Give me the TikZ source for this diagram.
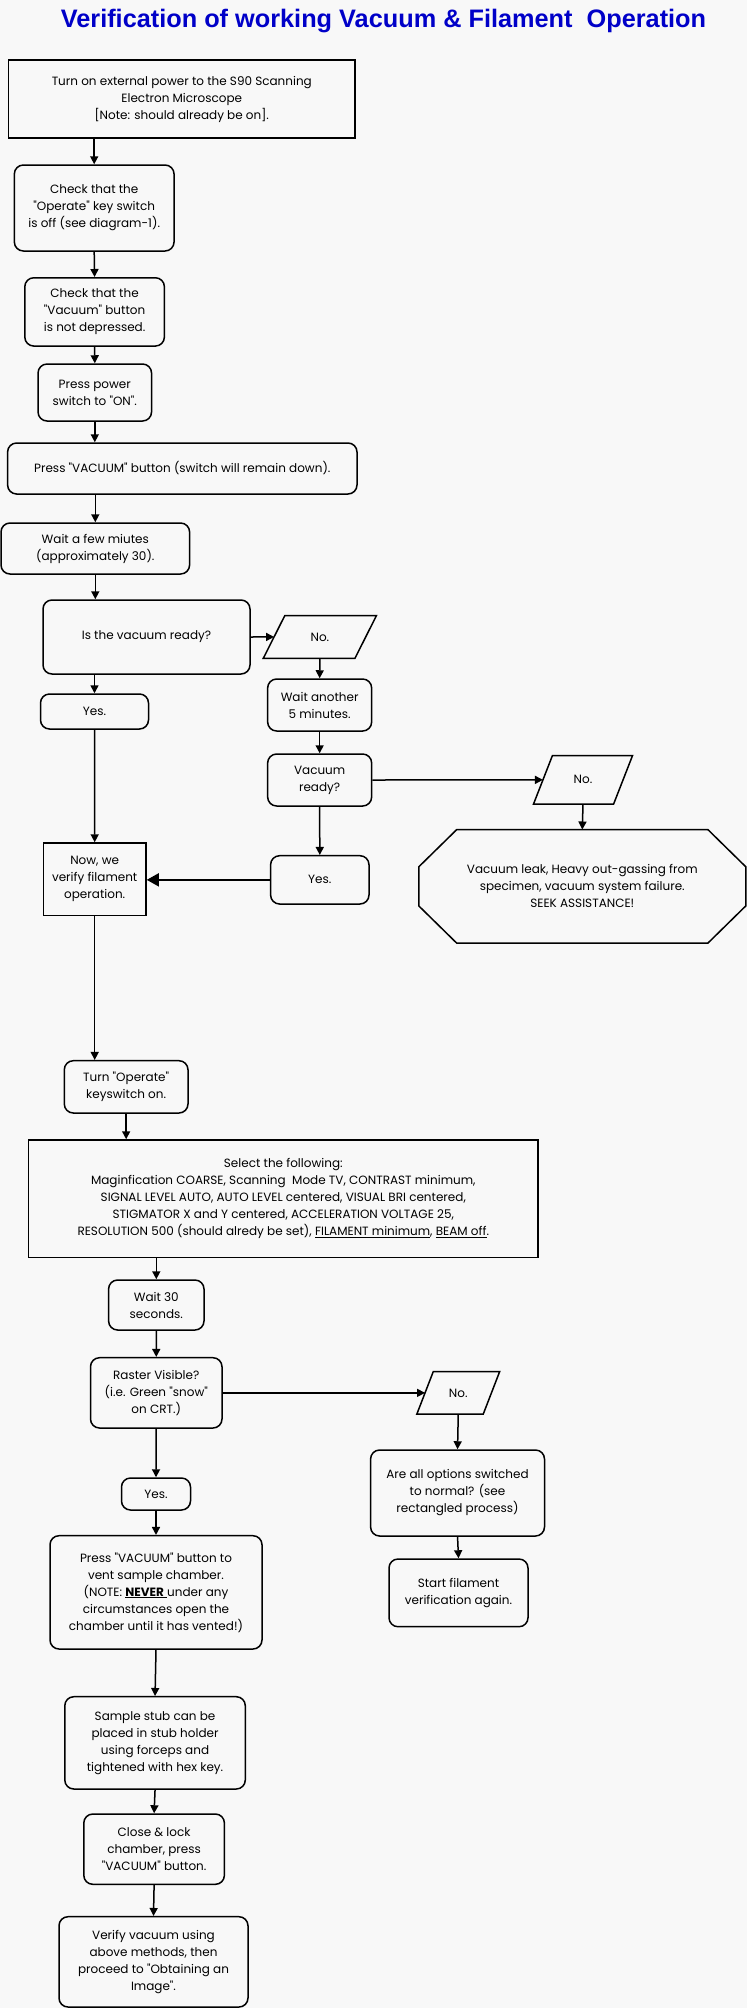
\documentclass[tikz,border=0pt]{standalone}
\usepackage{fontspec}
\usetikzlibrary{arrows.meta}
\newfontfamily\titlefont{Liberation Sans}
\newfontfamily\bodyfont{Poppins}
\definecolor{bgc}{RGB}{248,248,248}
\definecolor{titleblue}{RGB}{0,0,200}
\newcommand\drawpara[2]{\draw[shapeline] ([xshift=-#2pt]#1.south west) -- ([xshift=#2pt]#1.north west) -- ([xshift=#2pt]#1.north east) -- ([xshift=-#2pt]#1.south east) -- cycle;}
\begin{document}
\begin{tikzpicture}[x=1pt,y=-1pt,
  shapeline/.style={line width=1.5pt, line join=miter},
  box/.style={draw, line width=1.5pt, align=center, inner sep=0pt, font={\bodyfont\fontsize{12}{17}\selectfont}},
  rbox/.style={box, rounded corners=9pt},
  ghost/.style={align=center, inner sep=0pt, font={\bodyfont\fontsize{12}{17}\selectfont}},
  arr/.style={line width=1.5pt, -{Triangle[length=8pt,width=8pt]}},
  bigarr/.style={line width=1.5pt, -{Triangle[length=12pt,width=13pt]}},
  plain/.style={line width=1.5pt}
]
\fill[bgc] (0,0) rectangle (747,2008);
\useasboundingbox (0,0) rectangle (747,2008);

\node[anchor=base, font={\titlefont\bfseries\fontsize{25.3}{28}\selectfont}, text=titleblue] (title) at (383.5,27.5) {Verification of working Vacuum \& Filament\ \ Operation};

\node[box, minimum width=346.4pt, minimum height=78pt] (b1) at (181.8,99) {Turn on external power to the S90 Scanning\\Electron Microscope\\{[Note: should already be on].}};
\node[rbox, minimum width=159.7pt, minimum height=86pt] (b2) at (94.2,208) {Check that the\\"Operate" key switch\\is off (see diagram-1).};
\node[rbox, minimum width=139.6pt, minimum height=68.3pt] (b3) at (94.6,311.9) {Check that the\\"Vacuum" button\\is not depressed.};
\node[rbox, minimum width=113.5pt, minimum height=57pt] (b4) at (94.8,392.5) {Press power\\switch to "ON".};
\node[rbox, minimum width=349.4pt, minimum height=51pt] (b5) at (182.3,468.5) {Press "VACUUM" button (switch will remain down).};
\node[rbox, minimum width=188.6pt, minimum height=51pt] (b6) at (95.3,548.5) {Wait a few miutes\\(approximately 30).};
\node[rbox, minimum width=207pt, minimum height=74pt] (b7) at (146.5,637) {Is the vacuum ready?};
\node[ghost, minimum width=91.25pt, minimum height=42.3pt] (no1) at (319.9,636.9) {No.};
\drawpara{no1}{10.75}
\node[rbox, minimum width=108pt, minimum height=35pt] (yes1) at (94.5,711.5) {Yes.};
\node[rbox, minimum width=104pt, minimum height=52pt] (w5) at (319.65,705) {Wait another\\5 minutes.};
\node[rbox, minimum width=104pt, minimum height=52pt] (vr) at (319.65,780) {Vacuum\\ready?};
\node[ghost, minimum width=79.7pt, minimum height=48.3pt] (no2) at (583,779.85) {No.};
\drawpara{no2}{9.5}
\node[ghost, minimum width=326.6pt, minimum height=113.3pt] (oct) at (582.3,886.35) {Vacuum leak, Heavy out-gassing from\\specimen, vacuum system failure.\\SEEK ASSISTANCE!};
\draw[shapeline] ([xshift=38pt]oct.north west) -- ([xshift=-38pt]oct.north east) -- ([yshift=-37.3pt]oct.north east) -- ([yshift=37.3pt]oct.south east) -- ([xshift=-38pt]oct.south east) -- ([xshift=38pt]oct.south west) -- ([yshift=37.3pt]oct.south west) -- ([yshift=-37.3pt]oct.north west) -- cycle;
\node[box, minimum width=102.6pt, minimum height=72.7pt] (now) at (94.7,879.35) {Now, we\\verify filament\\operation.};
\node[rbox, minimum width=98.4pt, minimum height=48.3pt] (yes2) at (319.8,879.85) {Yes.};
\node[rbox, minimum width=123.7pt, minimum height=52.3pt] (turn) at (126.15,1086.85) {Turn "Operate"\\keyswitch on.};
\node[box, minimum width=509.4pt, minimum height=117.7pt] (sel) at (283.3,1198.85) {Select the following:\\Maginfication COARSE, Scanning\ \ Mode TV, CONTRAST minimum,\\SIGNAL LEVEL AUTO, AUTO LEVEL centered, VISUAL BRI centered,\\STIGMATOR X and Y centered, ACCELERATION VOLTAGE 25,\\RESOLUTION 500 (should alredy be set), \underline{FILAMENT minimum}, \underline{BEAM off}.};
\node[rbox, minimum width=95.4pt, minimum height=50pt] (w30) at (156.3,1305) {Wait 30\\seconds.};
\node[rbox, minimum width=131.5pt, minimum height=70.3pt] (ras) at (156.25,1392.85) {Raster Visible?\\(i.e. Green "snow"\\on CRT.)};
\node[ghost, minimum width=66pt, minimum height=42.3pt] (no3) at (458.25,1392.85) {No.};
\drawpara{no3}{8.25}
\node[rbox, minimum width=173.9pt, minimum height=86pt] (all) at (457.55,1493) {Are all options switched\\to normal? (see\\rectangled process)};
\node[rbox, minimum width=69pt, minimum height=32pt] (yes3) at (156,1494) {Yes.};
\node[rbox, minimum width=212pt, minimum height=113.3pt] (vent) at (156,1592.35) {Press "VACUUM" button to\\vent sample chamber.\\(NOTE: \underline{\textbf{NEVER}\ }under any\\circumstances open the\\chamber until it has vented!)};
\node[rbox, minimum width=139pt, minimum height=67.7pt] (start) at (458.5,1592.85) {Start filament\\verification again.};
\node[rbox, minimum width=180.5pt, minimum height=92.3pt] (stub) at (155.05,1742.85) {Sample stub can be\\placed in stub holder\\using forceps and\\tightened with hex key.};
\node[rbox, minimum width=140.6pt, minimum height=70.3pt] (close) at (154.1,1849.15) {Close \& lock\\chamber, press\\"VACUUM" button.};
\node[rbox, minimum width=189pt, minimum height=90.3pt] (ver) at (153.5,1961.85) {Verify vacuum using\\above methods, then\\proceed to "Obtaining an\\Image".};

\draw[arr] (b1.south -| b2.north) -- (b2.north);
\draw[arr] (b2.south) -- (b3.north);
\draw[arr] (b3.south) -- (b4.north);
\draw[arr] (b4.south) -- (b4.south |- b5.north);
\draw[arr] (b5.south -| b6.north) -- (b6.north);
\draw[arr] (b6.south) -- (b6.south |- b7.north);
\draw[arr] (b7.east) -- (no1.west);
\draw[arr] (no1.south) -- (w5.north);
\draw[arr] (b7.south -| yes1.north) -- (yes1.north);
\draw[arr] (w5.south) -- (vr.north);
\draw[arr] (vr.east) -- (no2.west);
\draw[arr] (no2.south) -- (oct.north);
\draw[arr] (yes1.south) -- (now.north);
\draw[arr] (vr.south) -- (yes2.north);
\draw[bigarr] (yes2.west) -- (yes2.west -| now.east);
\draw[arr] (now.south) -- (now.south |- turn.north);
\draw[arr] (turn.south) -- (turn.south |- sel.north);
\draw[arr] (sel.south -| w30.north) -- (w30.north);
\draw[arr] (w30.south) -- (ras.north);
\draw[arr] (ras.east) -- (no3.west);
\draw[arr] (no3.south) -- (all.north);
\draw[arr] (ras.south) -- (yes3.north);
\draw[arr] (all.south) -- (start.north);
\draw[arr] (yes3.south) -- (vent.north);
\draw[arr] (vent.south) -- (stub.north);
\draw[arr] (stub.south) -- (close.north);
\draw[arr] (close.south) -- (ver.north);
\end{tikzpicture}
\end{document}
